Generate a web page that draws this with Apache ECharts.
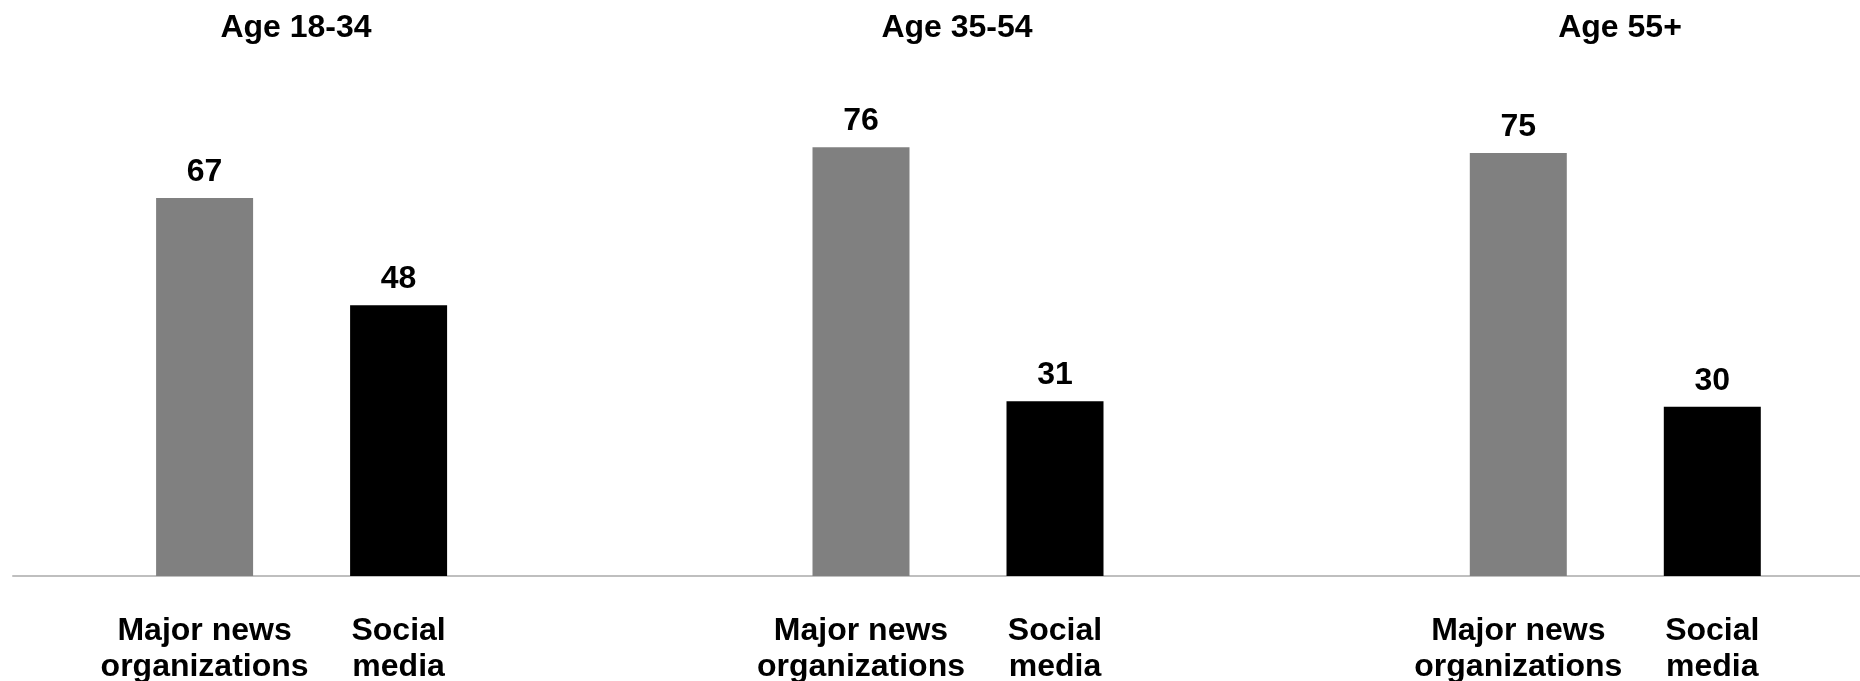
<!DOCTYPE html>
<html>
<head>
<meta charset="utf-8">
<script src="https://cdn.jsdelivr.net/npm/echarts@6/dist/echarts.min.js"></script>
<style>
html,body{margin:0;padding:0;background:#fff;}
#chart{width:1860px;height:681px;}
</style>
</head>
<body>
<div id="chart"></div>
<script>
// ---- data ----
const groups = ['Age 18-34', 'Age 35-54', 'Age 55+'];
const categories = ['Major news\norganizations', 'Social\nmedia'];
const majorNews = [67, 76, 75];
const socialMedia = [48, 31, 30];

// ---- layout / style ----
const FONT = "'Liberation Sans', Arial, Helvetica, sans-serif";
const gridLefts = [107.6, 764, 1421.3];
const gridWidth = 388;
const titleCenters = [291, 952, 1615];
const TOP = 12, BOTTOM = 105;
const colors = ['#808080', '#000000'];

const chart = echarts.init(document.getElementById('chart'));

const grids = [], xAxes = [], yAxes = [], series = [], titles = [];
groups.forEach((g, i) => {
  grids.push({left: gridLefts[i], width: gridWidth, top: TOP, bottom: BOTTOM, containLabel: false, outerBoundsMode: 'none'});
  xAxes.push({
    type: 'category', gridIndex: i, data: categories,
    axisLine: {show: false}, axisTick: {show: false},
    axisLabel: {interval: 0, margin: 37, fontFamily: FONT, fontSize: 32, fontWeight: 'bold', color: '#000', lineHeight: 36}
  });
  yAxes.push({type: 'value', gridIndex: i, min: 0, max: 100, show: false, splitLine: {show: false}});
  series.push({
    type: 'bar', xAxisIndex: i, yAxisIndex: i, barWidth: '50%',
    data: [majorNews[i], socialMedia[i]].map((v, k) => ({value: v, itemStyle: {color: colors[k]}})),
    label: {show: true, position: 'top', distance: 10, fontFamily: FONT, fontSize: 32, fontWeight: 'bold', color: '#000'},
    silent: true, animation: false
  });
  titles.push({
    text: g, left: titleCenters[i], top: 7, textAlign: 'center',
    textStyle: {fontFamily: FONT, fontSize: 32, fontWeight: 'bold', color: '#000'}
  });
});

// baseline spanning the full width
grids.push({left: 13, right: 0, top: TOP, bottom: BOTTOM, outerBoundsMode: 'none'});
xAxes.push({type: 'value', gridIndex: 3, min: 0, max: 1, axisLine: {show: true, onZero: false, lineStyle: {color: '#bfbfbf', width: 2}},
  axisTick: {show: false}, axisLabel: {show: false}, splitLine: {show: false}});
yAxes.push({type: 'value', gridIndex: 3, min: 0, max: 1, show: false, splitLine: {show: false}});

chart.setOption({
  animation: false,
  backgroundColor: '#fff',
  title: titles,
  grid: grids,
  xAxis: xAxes,
  yAxis: yAxes,
  series: series
});
</script>
</body>
</html>
